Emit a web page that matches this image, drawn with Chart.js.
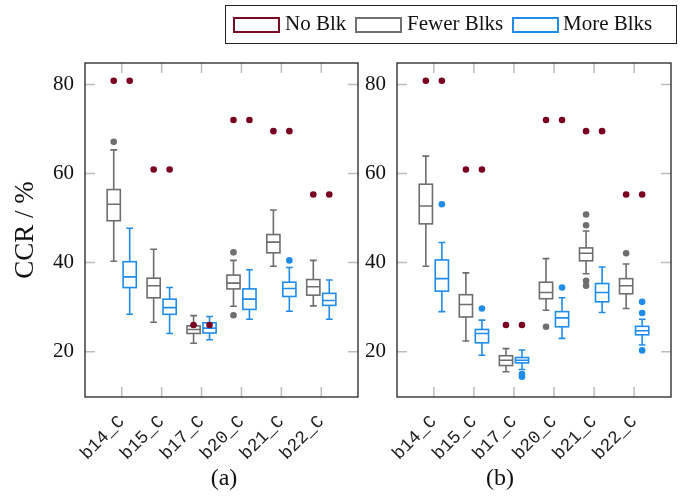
<!DOCTYPE html>
<html>
<head>
<meta charset="utf-8">
<script src="https://cdn.jsdelivr.net/npm/chart.js@4/dist/chart.umd.min.js"></script>
<style>
  html, body { margin:0; padding:0; background:#fff; }
  #wrap { position:relative; width:683px; height:496px; overflow:hidden; background:#fff; font-family:"Liberation Serif", serif; color:#111; }
  canvas { position:absolute; top:0; }
  #cA { left:0; }
  #cB { left:360px; }
  .legend { position:absolute; left:225px; top:5px; width:452px; height:39px; border:1px solid #222; box-sizing:border-box; }
  .sw { position:absolute; top:17px; width:47px; height:16px; box-sizing:border-box; border:2px solid; }
  .lt { position:absolute; top:11px; font-size:21px; line-height:24px; white-space:nowrap; }
  .cap { position:absolute; font-size:24px; line-height:28px; transform:translateX(-50%); }
</style>
</head>
<body>
<div id="wrap">
  <canvas id="cA" width="370" height="496"></canvas>
  <canvas id="cB" width="323" height="496"></canvas>
  <div class="legend"></div>
  <div class="sw" style="left:233px;border-color:#7a0a24;"></div>
  <div class="lt" style="left:285px;">No Blk</div>
  <div class="sw" style="left:355px;border-color:#707070;"></div>
  <div class="lt" style="left:407px;">Fewer Blks</div>
  <div class="sw" style="left:512px;border-color:#1f8ceb;"></div>
  <div class="lt" style="left:563px;">More Blks</div>
  <div class="cap" style="left:224px;top:463px;">(a)</div>
  <div class="cap" style="left:500px;top:463px;">(b)</div>
</div>
<script>
// ---------- data ----------
const categories = ['b14_C','b15_C','b17_C','b20_C','b21_C','b22_C'];
const yTicks = [20, 40, 60, 80];
const noBlk = [80.8, 60.9, 26.0, 72.0, 69.5, 55.3];

// panel (a) - Fewer Blks
const fewerA_min = [40.3, 26.6, 21.9, 30.2, 39.2, 30.3];
const fewerA_q1  = [49.4, 32.1, 24.1, 34.1, 42.2, 32.7];
const fewerA_med = [53.1, 34.8, 25.0, 35.4, 44.6, 34.6];
const fewerA_q3  = [56.4, 36.5, 25.8, 37.2, 46.3, 36.2];
const fewerA_max = [65.3, 43.0, 28.1, 40.5, 51.8, 40.5];
const fewerA_out = [[67.1], [], [], [42.3, 28.2], [], []];
// panel (a) - More Blks
const moreA_min = [28.4, 24.1, 22.7, 27.3, 29.1, 27.3];
const moreA_q1  = [34.4, 28.4, 24.2, 29.5, 32.4, 30.4];
const moreA_med = [36.8, 29.9, 25.3, 31.8, 34.2, 31.5];
const moreA_q3  = [40.2, 31.8, 26.5, 34.1, 35.6, 33.1];
const moreA_max = [47.7, 34.4, 27.9, 38.4, 38.9, 36.1];
const moreA_out = [[], [], [], [], [40.5], []];

// panel (b) - Fewer Blks
const fewerB_min = [39.2, 22.4, 15.5, 29.3, 37.5, 29.7];
const fewerB_q1  = [48.7, 27.8, 16.9, 31.9, 40.4, 33.0];
const fewerB_med = [52.7, 30.6, 18.1, 33.3, 42.1, 34.8];
const fewerB_q3  = [57.6, 32.8, 19.1, 35.6, 43.3, 36.4];
const fewerB_max = [63.9, 37.7, 20.7, 40.9, 47.1, 39.7];
const fewerB_out = [[], [], [], [25.6], [50.8, 48.4, 35.9, 34.8], [42.1]];
// panel (b) - More Blks
const moreB_min = [29.0, 19.2, 16.0, 23.0, 28.8, 21.5];
const moreB_q1  = [33.6, 22.0, 17.5, 25.6, 31.2, 23.8];
const moreB_med = [36.4, 24.1, 18.1, 27.6, 33.3, 24.7];
const moreB_q3  = [40.6, 25.0, 18.7, 29.0, 35.3, 25.7];
const moreB_max = [44.5, 27.1, 20.4, 32.1, 39.0, 27.3];
const moreB_out = [[53.1], [29.7], [15.0, 14.4], [34.4], [], [31.2, 28.7, 20.3]];

// ---------- styles ----------
const RED = '#7a0020', GRAY = '#6e6e6e', BLUE = '#1f8ceb';
const OFF_FEWER = -0.2, OFF_MORE = 0.2;
const BOX_HW = 0.165, CAP_HW = 0.085;

function outlierPoints(outs, off) {
  const pts = [];
  outs.forEach((arr, i) => arr.forEach(v => pts.push({x: i + 1 + off, y: v})));
  return pts;
}
function noBlkPoints() {
  const pts = [];
  noBlk.forEach((v, i) => { pts.push({x: i + 1 + OFF_FEWER, y: v}); pts.push({x: i + 1 + OFF_MORE, y: v}); });
  return pts;
}

const boxPlugin = {
  id: 'boxes',
  beforeDatasetsDraw(chart, args, opts) {
    const ctx = chart.ctx, xs = chart.scales.x, ys = chart.scales.y;
    ctx.save();
    ctx.lineWidth = 1.6;
    (opts.series || []).forEach(s => {
      ctx.strokeStyle = s.color;
      s.med.forEach((m, i) => {
        const c = i + 1 + s.offset;
        const x = xs.getPixelForValue(c);
        const bl = xs.getPixelForValue(c - BOX_HW), br = xs.getPixelForValue(c + BOX_HW);
        const cl = xs.getPixelForValue(c - CAP_HW), cr = xs.getPixelForValue(c + CAP_HW);
        const yMin = ys.getPixelForValue(s.min[i]), yQ1 = ys.getPixelForValue(s.q1[i]);
        const yMed = ys.getPixelForValue(m), yQ3 = ys.getPixelForValue(s.q3[i]);
        const yMax = ys.getPixelForValue(s.max[i]);
        ctx.beginPath();
        ctx.moveTo(x, yQ3); ctx.lineTo(x, yMax);
        ctx.moveTo(cl, yMax); ctx.lineTo(cr, yMax);
        ctx.moveTo(x, yQ1); ctx.lineTo(x, yMin);
        ctx.moveTo(cl, yMin); ctx.lineTo(cr, yMin);
        ctx.moveTo(bl, yMed); ctx.lineTo(br, yMed);
        ctx.stroke();
        ctx.strokeRect(bl, yQ3, br - bl, yQ1 - yQ3);
      });
    });
    ctx.restore();
  }
};

const framePlugin = {
  id: 'frame',
  afterDraw(chart) {
    const ctx = chart.ctx, a = chart.chartArea, xs = chart.scales.x, ys = chart.scales.y;
    ctx.save();
    ctx.strokeStyle = '#bdbdbd';
    ctx.lineWidth = 1.5;
    const TL = 10;
    ctx.beginPath();
    xs.ticks.forEach(t => {
      const x = xs.getPixelForValue(t.value);
      ctx.moveTo(x, a.bottom); ctx.lineTo(x, a.bottom - TL);
      ctx.moveTo(x, a.top); ctx.lineTo(x, a.top + TL);
    });
    ys.ticks.forEach(t => {
      const y = ys.getPixelForValue(t.value);
      ctx.moveTo(a.left, y); ctx.lineTo(a.left + TL, y);
      ctx.moveTo(a.right, y); ctx.lineTo(a.right - TL, y);
    });
    ctx.stroke();
    ctx.strokeStyle = '#222';
    ctx.lineWidth = 1.3;
    ctx.strokeRect(a.left, a.top, a.right - a.left, a.bottom - a.top);
    ctx.restore();
  }
};

function makeChart(id, yWidth, showTitle, fewer, more) {
  return new Chart(document.getElementById(id), {
    type: 'scatter',
    data: {
      datasets: [
        { data: noBlkPoints(), backgroundColor: RED, pointRadius: 3.3, pointBorderWidth: 0 },
        { data: outlierPoints(fewer.out, OFF_FEWER), backgroundColor: GRAY, pointRadius: 3.3, pointBorderWidth: 0 },
        { data: outlierPoints(more.out, OFF_MORE), backgroundColor: BLUE, pointRadius: 3.3, pointBorderWidth: 0 }
      ]
    },
    options: {
      responsive: false,
      animation: false,
      devicePixelRatio: 1,
      events: [],
      layout: { padding: { top: 63, right: 12, left: 0, bottom: 0 } },
      plugins: {
        legend: { display: false },
        tooltip: { enabled: false },
        boxes: { series: [
          Object.assign({ offset: OFF_FEWER, color: GRAY }, fewer),
          Object.assign({ offset: OFF_MORE, color: BLUE }, more)
        ] }
      },
      scales: {
        x: {
          type: 'linear', min: 0.08, max: 6.92,
          afterBuildTicks(scale) { scale.ticks = categories.map((c, i) => ({ value: i + 1 })); },
          afterFit(scale) { scale.height = 99; },
          grid: { display: false, drawTicks: false },
          border: { display: false },
          ticks: {
            autoSkip: false, minRotation: 45, maxRotation: 45, padding: 14,
            color: '#222',
            font: { family: 'Liberation Mono', size: 18 },
            callback: (v) => categories[Math.round(v) - 1] || ''
          }
        },
        y: {
          min: 9.84, max: 84.8,
          afterBuildTicks(scale) { scale.ticks = yTicks.map(v => ({ value: v })); },
          afterFit(scale) { scale.width = yWidth; },
          grid: { display: false, drawTicks: false },
          border: { display: false },
          title: {
            display: showTitle, text: 'CCR / %', color: '#111',
            font: { family: 'Liberation Serif', size: 27 },
            padding: { top: 10, bottom: 0 }
          },
          ticks: {
            padding: 11, color: '#111',
            font: { family: 'Liberation Serif', size: 21 }
          }
        }
      }
    },
    plugins: [boxPlugin, framePlugin]
  });
}

makeChart('cA', 85, true,
  { min: fewerA_min, q1: fewerA_q1, med: fewerA_med, q3: fewerA_q3, max: fewerA_max, out: fewerA_out },
  { min: moreA_min, q1: moreA_q1, med: moreA_med, q3: moreA_q3, max: moreA_max, out: moreA_out });
makeChart('cB', 37, false,
  { min: fewerB_min, q1: fewerB_q1, med: fewerB_med, q3: fewerB_q3, max: fewerB_max, out: fewerB_out },
  { min: moreB_min, q1: moreB_q1, med: moreB_med, q3: moreB_q3, max: moreB_max, out: moreB_out });
</script>
</body>
</html>
